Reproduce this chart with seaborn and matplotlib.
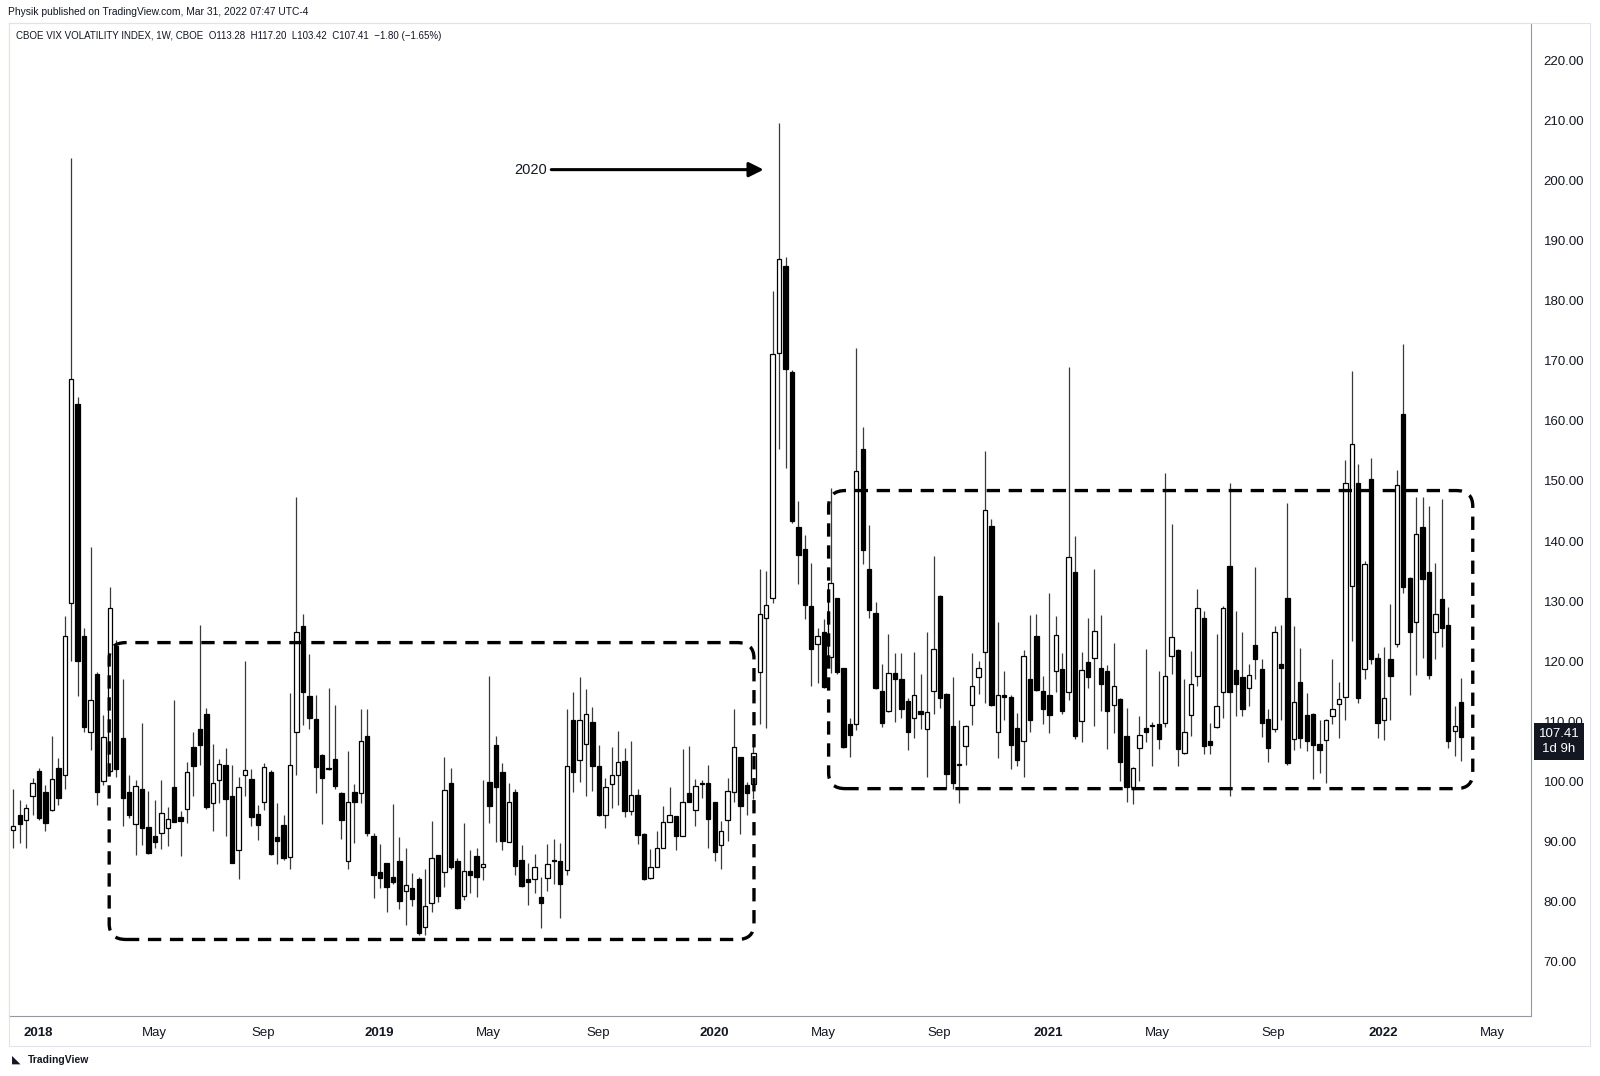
import matplotlib
matplotlib.use("Agg")
import matplotlib.pyplot as plt
import matplotlib.patches as mpatches
import matplotlib.transforms as mtransforms
import numpy as np
import pandas as pd
import seaborn as sns

# weekly candles, first bar = week of 2017-12-04
start_week = "2017-12-04"

opens = [91.9, 94.4, 93.6, 97.5, 101.8, 98.3, 95.2, 102.3, 101.0, 129.7,
         162.8, 124.2, 108.3, 117.9, 100.0, 101.8, 122.5, 107.2, 98.2, 92.9,
         98.7, 92.4, 90.9, 91.4, 92.2, 99.0, 94.0, 95.4, 105.7, 108.8,
         111.3, 96.4, 100.3, 102.8, 97.6, 88.6, 101.1, 100.4, 94.6, 96.5,
         101.5, 90.8, 92.75, 87.5, 108.3, 125.85, 114.2, 110.4, 104.4, 102.1,
         103.7, 98.0, 86.8, 98.3, 98.1, 107.55, 90.9, 84.9, 86.4, 84.15,
         86.8, 81.8, 82.3, 83.8, 75.7, 79.7, 87.75, 84.9, 99.7, 86.8,
         81.0, 85.1, 87.6, 85.8, 99.9, 106.1, 101.6, 90.0, 98.3, 87.0,
         83.8, 83.7, 80.7, 83.9, 86.93, 86.75, 85.3, 110.3, 103.6, 106.3,
         109.9, 102.6, 94.4, 99.5, 101.1, 103.4, 95.1, 97.8, 91.2, 83.9,
         85.7, 89.0, 93.3, 94.2, 91.0, 98.0, 95.2, 99.6, 99.8, 96.5,
         89.4, 93.6, 98.2, 104.1, 99.4, 99.5, 118.25, 127.2, 130.5, 171.3,
         185.8, 168.1, 142.3, 138.6, 129.2, 122.8, 124.9, 120.7, 130.5, 118.9,
         109.6, 109.5, 155.3, 135.4, 128.0, 115.0, 111.8, 118.0, 117.0, 113.4,
         110.5, 111.8, 108.8, 115.0, 130.8, 114.5, 109.2, 102.8, 105.9, 112.7,
         117.3, 121.6, 142.5, 108.2, 114.3, 114.1, 108.9, 106.8, 117.0, 124.2,
         115.0, 114.4, 118.4, 118.7, 114.8, 134.8, 110.1, 119.8, 120.6, 118.8,
         118.4, 112.7, 113.65, 107.6, 99.1, 105.5, 108.9, 109.35, 109.5, 109.7,
         120.9, 121.9, 104.8, 111.05, 117.5, 127.2, 106.7, 109.1, 114.8, 135.8,
         118.5, 117.3, 115.5, 122.7, 118.7, 110.4, 108.8, 119.5, 130.6, 107.1,
         116.6, 111.05, 111.2, 106.3, 106.9, 110.9, 112.8, 114.1, 132.6, 149.6,
         118.7, 150.3, 120.6, 110.2, 120.3, 122.8, 161.1, 133.8, 126.6, 142.3,
         134.8, 124.8, 130.4, 126.0, 108.4, 113.28]

highs = [98.7, 96.9, 96.3, 100.6, 102.2, 99.4, 107.6, 103.9, 127.5, 203.7,
         163.9, 125.6, 139.0, 118.2, 111.1, 132.4, 123.5, 117.1, 101.1, 100.3,
         109.7, 98.4, 96.9, 100.2, 95.8, 113.5, 95.0, 103.2, 108.2, 126.0,
         112.3, 106.3, 103.7, 105.5, 102.8, 100.8, 120.1, 102.1, 96.1, 103.1,
         101.9, 96.35, 94.4, 114.65, 147.4, 127.85, 121.2, 114.4, 104.6, 115.5,
         112.7, 98.2, 105.0, 99.6, 112.0, 112.0, 91.4, 89.6, 86.4, 96.2,
         90.7, 89.0, 84.7, 84.15, 85.5, 93.4, 87.75, 104.0, 102.3, 87.2,
         93.1, 88.6, 88.9, 100.2, 117.6, 107.6, 103.0, 99.7, 98.7, 89.4,
         86.4, 87.9, 84.05, 89.6, 90.4, 89.7, 112.0, 114.9, 117.3, 115.3,
         112.4, 106.1, 100.6, 105.7, 108.4, 105.5, 106.8, 98.7, 91.4, 88.7,
         91.7, 95.9, 99.1, 94.2, 105.4, 105.9, 100.4, 100.2, 102.7, 96.5,
         93.4, 100.5, 112.0, 104.1, 99.9, 106.0, 135.3, 135.0, 181.6, 209.6,
         187.3, 168.5, 146.6, 141.0, 136.4, 125.5, 127.0, 148.9, 130.5, 118.9,
         110.6, 172.1, 158.9, 142.7, 129.9, 119.5, 124.6, 121.4, 121.4, 113.8,
         121.6, 117.8, 124.8, 137.5, 131.0, 114.7, 117.4, 110.2, 109.4, 121.3,
         120.0, 155.0, 143.7, 126.6, 118.3, 114.3, 111.4, 121.9, 127.7, 127.8,
         117.6, 131.4, 127.6, 121.3, 168.9, 140.8, 121.5, 127.2, 135.3, 127.7,
         119.4, 123.0, 113.9, 112.3, 102.4, 110.9, 122.0, 109.9, 118.4, 151.4,
         142.9, 122.1, 117.0, 121.7, 132.0, 128.35, 109.66, 124.6, 129.2, 149.6,
         128.4, 124.8, 119.5, 135.6, 120.4, 112.0, 125.9, 126.1, 146.3, 125.9,
         122.15, 114.65, 111.4, 110.2, 110.4, 120.3, 116.6, 153.5, 168.3, 152.8,
         136.6, 153.9, 121.3, 122.4, 129.5, 151.8, 172.8, 134.0, 147.4, 147.4,
         145.9, 136.3, 147.0, 129.1, 112.5, 117.20]

lows = [89.0, 89.7, 89.0, 94.4, 93.5, 91.7, 95.0, 96.0, 98.7, 120.0,
        114.2, 108.3, 105.2, 96.0, 99.4, 101.5, 100.8, 92.5, 93.9, 87.8,
        89.4, 88.0, 88.9, 88.7, 89.25, 93.2, 87.6, 93.1, 97.6, 102.7,
        95.4, 91.8, 96.35, 91.0, 86.5, 83.7, 97.6, 92.5, 90.25, 95.2,
        87.8, 86.2, 86.9, 85.5, 101.0, 109.4, 108.8, 98.0, 92.9, 101.9,
        98.8, 90.4, 85.5, 89.7, 96.35, 90.9, 80.55, 82.2, 78.2, 83.0,
        78.7, 76.1, 79.2, 74.4, 74.4, 78.3, 80.0, 82.5, 85.4, 78.7,
        80.3, 81.4, 80.8, 83.6, 93.1, 90.0, 88.6, 89.9, 84.4, 82.5,
        79.4, 81.5, 75.55, 81.7, 83.0, 77.2, 84.4, 98.3, 99.96, 97.6,
        98.4, 94.2, 92.3, 95.5, 96.0, 94.0, 94.4, 89.6, 83.6, 83.7,
        85.7, 89.0, 93.3, 88.6, 91.0, 96.5, 92.6, 97.2, 89.0, 86.8,
        85.5, 90.1, 96.5, 91.2, 94.4, 97.0, 109.5, 108.9, 129.7, 155.3,
        152.2, 143.0, 132.8, 127.0, 115.8, 116.3, 115.6, 118.0, 117.9, 105.6,
        104.0, 108.5, 136.2, 127.2, 115.3, 109.1, 111.6, 109.9, 110.5, 105.2,
        107.2, 108.7, 100.8, 111.2, 112.3, 98.8, 98.8, 96.4, 102.7, 109.4,
        114.5, 113.0, 112.5, 103.9, 110.3, 102.1, 102.5, 100.7, 108.3, 115.0,
        109.5, 108.0, 114.9, 111.3, 113.5, 107.0, 106.6, 115.6, 109.3, 111.8,
        105.4, 108.1, 100.1, 96.6, 96.2, 100.0, 106.5, 102.6, 105.4, 109.0,
        117.8, 102.6, 104.5, 107.6, 115.9, 104.6, 104.6, 108.9, 110.6, 97.5,
        110.9, 110.9, 112.55, 117.0, 107.45, 103.3, 108.3, 110.2, 102.7, 105.2,
        105.5, 105.0, 100.35, 101.35, 99.8, 109.5, 107.3, 110.2, 123.3, 113.0,
        117.0, 119.6, 107.2, 106.9, 110.2, 122.4, 131.3, 114.3, 117.7, 120.5,
        117.1, 120.4, 122.3, 105.6, 104.2, 103.42]

closes = [92.6, 92.9, 95.6, 99.7, 93.9, 93.1, 100.4, 97.3, 124.2, 166.9,
          120.0, 109.1, 113.6, 98.3, 107.4, 128.9, 102.1, 97.3, 94.4, 99.2,
          92.2, 88.1, 90.0, 94.7, 93.7, 93.3, 93.4, 101.6, 102.5, 106.0,
          95.7, 99.8, 102.9, 97.1, 86.5, 99.1, 101.9, 94.0, 92.75, 102.45,
          88.0, 90.1, 87.3, 102.7, 124.8, 114.9, 110.5, 102.45, 100.5, 102.0,
          99.3, 93.6, 96.6, 96.5, 106.7, 91.4, 84.4, 83.9, 82.5, 83.3,
          80.1, 82.8, 80.4, 74.8, 79.2, 87.3, 80.9, 98.6, 85.8, 79.0,
          85.1, 84.4, 84.15, 86.2, 95.95, 99.1, 90.1, 96.6, 85.9, 82.6,
          83.2, 85.7, 79.7, 86.2, 86.76, 83.0, 102.6, 101.5, 110.3, 111.3,
          102.6, 94.4, 99.0, 101.1, 103.3, 95.1, 97.7, 91.1, 83.8, 85.8,
          89.0, 93.3, 94.4, 91.0, 96.6, 96.5, 99.3, 99.8, 93.7, 88.3,
          91.7, 98.4, 105.7, 95.96, 98.1, 104.8, 127.8, 129.3, 171.1, 186.9,
          168.6, 143.4, 137.7, 129.3, 122.1, 124.2, 115.7, 133.0, 118.25, 105.7,
          107.7, 151.6, 138.5, 128.6, 115.5, 109.7, 118.0, 117.1, 112.1, 108.2,
          114.4, 111.2, 111.5, 122.1, 113.9, 101.3, 99.7, 102.7, 109.2, 115.9,
          118.8, 145.1, 112.7, 114.4, 114.0, 106.1, 103.6, 120.8, 110.3, 115.2,
          112.0, 111.0, 124.4, 111.7, 137.4, 107.6, 118.6, 117.4, 125.0, 116.15,
          111.8, 115.9, 103.3, 99.0, 102.2, 107.8, 108.3, 109.25, 107.1, 117.6,
          124.1, 105.4, 108.17, 116.15, 128.8, 105.95, 106.05, 112.6, 128.8, 114.8,
          116.15, 112.05, 117.7, 120.4, 109.7, 105.5, 124.9, 118.8, 103.0, 113.2,
          107.3, 106.8, 106.05, 105.2, 110.2, 112.05, 113.7, 149.6, 156.1, 113.8,
          136.1, 120.4, 109.7, 113.9, 117.6, 149.4, 132.4, 124.8, 141.2, 133.6,
          117.7, 127.8, 125.6, 106.8, 109.2, 107.41]

price_ticks = [70, 80, 90, 100, 110, 120, 130, 140, 150, 160, 170, 180, 190, 200, 210, 220]
time_tick_months = ["2018-01", "2018-05", "2018-09", "2019-01", "2019-05", "2019-09",
                    "2020-01", "2020-05", "2020-09", "2021-01", "2021-05", "2021-09",
                    "2022-01", "2022-05"]
time_tick_labels = ["2018", "May", "Sep", "2019", "May", "Sep", "2020", "May", "Sep",
                    "2021", "May", "Sep", "2022", "May"]

# ranges drawn as dashed boxes: (first bar, last bar, low, high)
box_2018_2019 = (14.9, 115.1, 73.7, 123.1)
box_2020_2022 = (126.7, 226.8, 98.8, 148.4)

sns.set_theme(style="white")
plt.rcParams['font.family'] = ['Liberation Sans', 'DejaVu Sans']

df = pd.DataFrame({"open": opens, "high": highs, "low": lows, "close": closes})
df["x"] = np.arange(len(df))
df["up"] = df["close"] >= df["open"]
df["body_low"] = df[["open", "close"]].min(axis=1)
df["body_h"] = (df["close"] - df["open"]).abs().clip(lower=0.18)

W, H = 1600, 1076
fig = plt.figure(figsize=(W / 100, H / 100), dpi=100)
fig.patch.set_facecolor("white")
ax = fig.add_axes([9 / W, 1 - 1015.5 / H, (1531 - 9) / W, (1015.5 - 23) / H])

# candles
ax.vlines(df["x"], df["low"], df["high"], color="#3a3a3a", lw=0.9, zorder=2)
ax.bar(df["x"], df["body_h"], bottom=df["body_low"], width=0.68,
       color=np.where(df["up"], "white", "black"), edgecolor="black",
       linewidth=0.9, zorder=3)

ax.set_xlim(-0.67, 235.85)
ax.set_ylim(61.05, 226.2)

# price axis on the right
ax.yaxis.tick_right()
ax.set_yticks(price_ticks)
ax.set_yticklabels([f"{v:.2f}" for v in price_ticks])
ax.tick_params(axis="y", length=0, pad=9, labelsize=9.5, labelcolor="#131722")

# time axis: first weekly bar in each labelled month
all_weeks = pd.date_range(start_week, periods=240, freq="7D")
tick_pos = [np.searchsorted(all_weeks, pd.Timestamp(m + "-01")) - 0.15 for m in time_tick_months]
ax.set_xticks(tick_pos)
ax.set_xticklabels(time_tick_labels)
ax.tick_params(axis="x", length=0, pad=8, labelsize=9.5, labelcolor="#131722")
for lab in ax.get_xticklabels():
    if lab.get_text().isdigit():
        lab.set_fontweight("bold")

for side in ["left", "top"]:
    ax.spines[side].set_color("#e0e3eb")
    ax.spines[side].set_linewidth(0.8)
for side in ["right", "bottom"]:
    ax.spines[side].set_color("#9598a1")
    ax.spines[side].set_linewidth(0.8)

# dashed range boxes
for x0, x1, y0, y1 in [box_2018_2019, box_2020_2022]:
    box = mpatches.FancyBboxPatch((x0, y0), x1 - x0, y1 - y0,
                                  boxstyle="round,pad=0,rounding_size=2.6",
                                  fill=False, ec="black", lw=2.4,
                                  ls=(0, (4, 2.6)), zorder=4)
    ax.add_patch(box)

# 2020 arrow
ax.annotate("", xy=(116.6, 201.8), xytext=(83.6, 201.8),
            arrowprops=dict(arrowstyle="-|>", color="black", lw=2.2,
                            mutation_scale=22, shrinkA=0, shrinkB=0), zorder=5)
ax.text(82.9, 201.8, "2020", ha="right", va="center", fontsize=10.5, color="#131722")

# last price tag
tr = mtransforms.blended_transform_factory(ax.transAxes, ax.transData)
ax.text(1.0 + 28 / (1531 - 9), closes[-1] + 1.4, f"{closes[-1]:.2f}\n1d 9h",
        transform=tr, ha="center", va="top", fontsize=9.5, color="white",
        linespacing=1.25, clip_on=False,
        bbox=dict(boxstyle="square,pad=0.38", fc="#131722", ec="none"))

# header texts
fig.text(8 / W, 1 - 12 / H, "Physik published on TradingView.com, Mar 31, 2022 07:47 UTC-4",
         fontsize=7.4, va="center", ha="left", color="#131722")
fig.text(16 / W, 1 - 36 / H,
         "CBOE VIX VOLATILITY INDEX, 1W, CBOE  O113.28  H117.20  L103.42  C107.41  \u22121.80 (\u22121.65%)",
         fontsize=7, va="center", ha="left", color="#131722")

# outer frame of the chart panel
fig.add_artist(mpatches.Rectangle((9 / W, 1 - 1046 / H), (1590 - 9) / W, (1046 - 23) / H,
                                  transform=fig.transFigure, fill=False,
                                  ec="#e0e3eb", lw=0.8))

# footer logo
fig.text(12 / W, 1 - 1060 / H, "\u25e3", fontsize=8, va="center", ha="left", color="#131722")
fig.text(28 / W, 1 - 1060 / H, "TradingView", fontsize=7.5, fontweight="bold",
         va="center", ha="left", color="#131722")

fig.savefig("out.png", dpi=100, facecolor="white")
